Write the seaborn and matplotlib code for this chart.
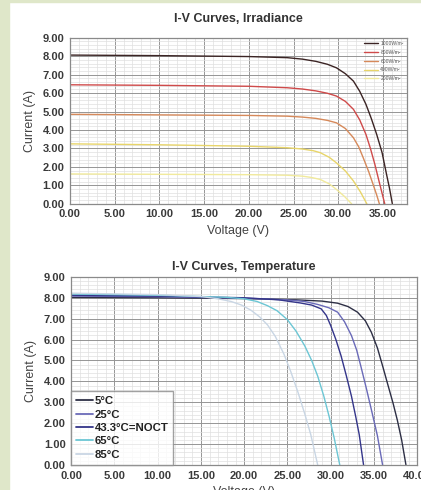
"""
I-V curves of a PV module: irradiance and temperature dependence
"""

import pandas as pd
import matplotlib
matplotlib.use("Agg")
import matplotlib.pyplot as plt
from matplotlib.patches import Rectangle
from matplotlib.ticker import MultipleLocator
import seaborn as sns

# ── Data ──────────────────────────────────────────────────────────────────────
IRR_LABELS = ["1000W/m²", "800W/m²", "600W/m²", "400W/m²", "200W/m²"]
IRR_COLORS = ["#3b2424", "#cf4a4a", "#d6895a", "#e8d56a", "#f1ea9c"]

V_1000 = [0, 10, 20, 24.3, 26, 27.5, 28.8, 29.8, 30.8, 31.7, 32.4, 33.1, 33.7,
          34.3, 34.9, 35.4, 35.75, 36.05]
I_1000 = [8.06, 8.03, 7.98, 7.92, 7.84, 7.72, 7.56, 7.37, 7.05, 6.65, 6.10, 5.39,
          4.62, 3.76, 2.78, 1.60, 0.80, 0.0]

V_800 = [0, 10, 20, 24.3, 26, 27.5, 28.8, 29.8, 30.8, 31.7, 32.4, 33.1, 33.6,
         34.1, 34.6, 35.2]
I_800 = [6.45, 6.42, 6.37, 6.29, 6.22, 6.12, 5.99, 5.84, 5.55, 5.12, 4.55, 3.76,
         3.00, 2.13, 1.15, 0.0]

V_600 = [0, 10, 20, 24.3, 26, 27.5, 28.8, 29.8, 30.8, 31.7, 32.3, 32.8, 33.4,
         33.9, 34.3, 34.6]
I_600 = [4.85, 4.82, 4.79, 4.75, 4.70, 4.63, 4.52, 4.39, 4.08, 3.58, 3.08, 2.49,
         1.75, 1.05, 0.48, 0.0]

V_400 = [0, 10, 20, 24.3, 26, 27.2, 28.0, 29.0, 29.8, 30.8, 31.7, 32.5, 33.2]
I_400 = [3.25, 3.20, 3.12, 3.04, 2.97, 2.88, 2.77, 2.52, 2.22, 1.78, 1.24, 0.63, 0.0]

V_200 = [0, 10, 20, 24.3, 26, 27, 28.0, 29.0, 29.8, 30.7, 31.5]
I_200 = [1.62, 1.60, 1.58, 1.55, 1.50, 1.43, 1.32, 1.08, 0.78, 0.40, 0.0]

TEMP_LABELS = ["5°C", "25°C", "43.3°C=NOCT", "65°C", "85°C"]
TEMP_COLORS = ["#2d2f45", "#6a6ab8", "#34358a", "#6cc6d4", "#c9d6e4"]

V_5C = [0, 10, 20, 26, 29, 30.8, 32, 33.1, 34, 34.7, 35.4, 36.0, 36.6, 37.2,
        37.7, 38.2, 38.7]
I_5C = [8.02, 8.00, 7.96, 7.90, 7.84, 7.74, 7.58, 7.31, 6.90, 6.35, 5.60, 4.74,
        3.85, 2.97, 2.15, 1.20, 0.0]

V_25C = [0, 10, 20, 25, 27, 28.5, 29.8, 30.8, 31.6, 32.4, 33.0, 33.5, 34.1, 34.7,
         35.4, 36.0]
I_25C = [8.08, 8.05, 7.98, 7.90, 7.82, 7.68, 7.52, 7.31, 6.85, 6.19, 5.50, 4.70,
         3.70, 2.65, 1.40, 0.0]

V_43C = [0, 10, 20, 24, 26.5, 27.8, 28.9, 29.5, 30.0, 30.6, 31.2, 31.8, 32.4,
         32.9, 33.3, 33.8]
I_43C = [8.12, 8.08, 8.00, 7.90, 7.75, 7.65, 7.47, 7.15, 6.67, 6.00, 5.22, 4.28,
         3.29, 2.30, 1.45, 0.0]

V_65C = [0, 10, 18, 20, 21.5, 22.7, 23.8, 25.0, 26.0, 27.0, 27.8, 28.5, 29.2,
         29.8, 30.4, 31.05]
I_65C = [8.18, 8.12, 8.02, 7.95, 7.82, 7.62, 7.38, 6.95, 6.40, 5.70, 5.00, 4.25,
         3.30, 2.35, 1.30, 0.0]

V_85C = [0, 10, 15, 17, 18.5, 19.7, 20.8, 21.8, 22.7, 23.6, 24.6, 25.4, 26.2,
         27.0, 27.7, 28.5]
I_85C = [8.22, 8.15, 8.06, 7.95, 7.82, 7.65, 7.40, 7.08, 6.70, 6.15, 5.30, 4.45,
         3.50, 2.45, 1.45, 0.0]


def build_frame(labels, vs, cs):
    rows = []
    for lab, v, c in zip(labels, vs, cs):
        for x, y in zip(v, c):
            rows.append({"curve": lab, "V": x, "I": y})
    return pd.DataFrame(rows)


irr_df = build_frame(IRR_LABELS, [V_1000, V_800, V_600, V_400, V_200],
                     [I_1000, I_800, I_600, I_400, I_200])
temp_df = build_frame(TEMP_LABELS, [V_5C, V_25C, V_43C, V_65C, V_85C],
                      [I_5C, I_25C, I_43C, I_65C, I_85C])

# ── Style ─────────────────────────────────────────────────────────────────────
sns.set_theme(style="whitegrid")
plt.rcParams["font.family"] = ["Liberation Sans", "DejaVu Sans"]

fig = plt.figure(figsize=(4.21, 4.90), dpi=100, facecolor="white")
fig.add_artist(Rectangle((0, 0), 9 / 421, 1, transform=fig.transFigure,
                         color="#dfe7c9", zorder=0))
fig.add_artist(Rectangle((0, 1 - 2 / 490), 1, 2 / 490, transform=fig.transFigure,
                         color="#dfe7c9", zorder=0))

ax1 = fig.add_axes([0.166, 0.584, 0.801, 0.339])
ax2 = fig.add_axes([0.169, 0.051, 0.822, 0.384])


def style_axis(ax, xmax, title, title_pad):
    ax.set_facecolor("white")
    ax.set_xlim(0, xmax)
    ax.set_ylim(0, 9)
    ax.xaxis.set_major_locator(MultipleLocator(5))
    ax.xaxis.set_minor_locator(MultipleLocator(1))
    ax.yaxis.set_major_locator(MultipleLocator(1))
    ax.yaxis.set_minor_locator(MultipleLocator(0.2))
    ax.xaxis.set_major_formatter(lambda v, p: f"{v:.2f}")
    ax.yaxis.set_major_formatter(lambda v, p: f"{v:.2f}")
    ax.grid(which="major", color="#959595", linewidth=0.7)
    ax.grid(which="minor", color="#e0e0e0", linewidth=0.5)
    for s in ax.spines.values():
        s.set_color("#8a8a8a")
        s.set_linewidth(0.9)
    ax.tick_params(axis="both", which="major", labelsize=8, colors="#8a8a8a",
                   labelcolor="#3a3a3a", length=3, width=0.8, pad=1)
    ax.tick_params(axis="x", which="major", length=0, pad=4)
    ax.tick_params(which="minor", length=0)
    for lbl in ax.get_xticklabels() + ax.get_yticklabels():
        lbl.set_fontweight("bold")
    ax.set_xlabel("Voltage (V)", fontsize=9, color="#444444", labelpad=4)
    ax.set_ylabel("Current (A)", fontsize=9, color="#444444", labelpad=5)
    ax.set_title(title, fontsize=9, fontweight="bold", color="#333333", pad=title_pad)


# ── Top: irradiance ──────────────────────────────────────────────────────────
sns.lineplot(data=irr_df, x="V", y="I", hue="curve", hue_order=IRR_LABELS,
             palette=IRR_COLORS, sort=False, estimator=None, linewidth=1.0, ax=ax1)
style_axis(ax1, 37.7, "I-V Curves, Irradiance", 11)
leg1 = ax1.legend(loc="upper right", fontsize=3.6, frameon=False, handlelength=2.8,
                  labelspacing=0.75, borderaxespad=0.3, handletextpad=0.4)
for t in leg1.get_texts():
    t.set_color("#555555")
for ln in leg1.get_lines():
    ln.set_linewidth(1.0)

# ── Bottom: temperature ──────────────────────────────────────────────────────
sns.lineplot(data=temp_df, x="V", y="I", hue="curve", hue_order=TEMP_LABELS,
             palette=TEMP_COLORS, sort=False, estimator=None, linewidth=1.0, ax=ax2)
style_axis(ax2, 40, "I-V Curves, Temperature", 5)
leg2 = ax2.legend(loc="lower left", fontsize=8.2, frameon=True, fancybox=False,
                  handlelength=1.45, labelspacing=0.3, borderaxespad=0.0,
                  handletextpad=0.15, borderpad=0.45)
leg2.get_frame().set_edgecolor("#8a8a8a")
leg2.get_frame().set_linewidth(1.0)
for t in leg2.get_texts():
    t.set_color("#222222")
    t.set_fontweight("bold")
for ln in leg2.get_lines():
    ln.set_linewidth(1.3)

fig.savefig("out.png", dpi=100)
